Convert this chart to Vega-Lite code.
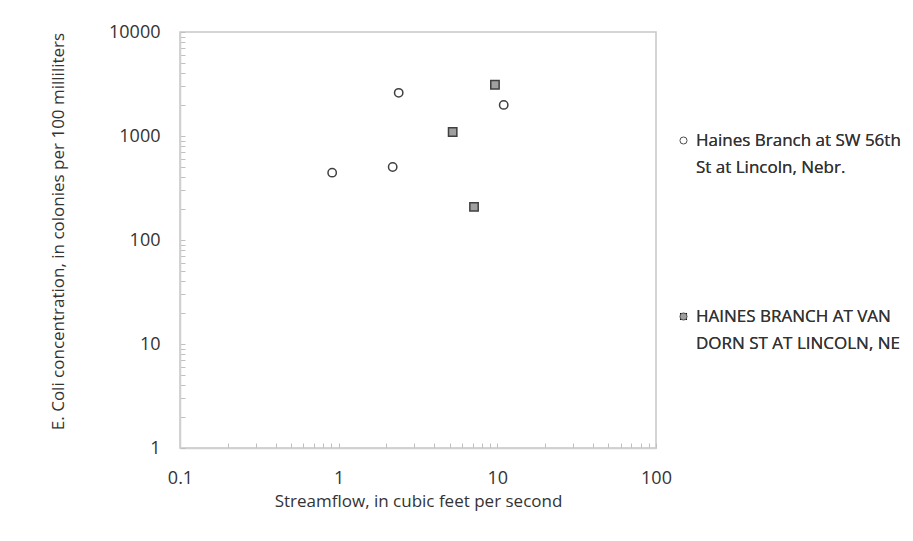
{
  "$schema": "https://vega.github.io/schema/vega-lite/v6.json",
  "autosize": "none",
  "width": 476,
  "height": 416,
  "padding": {"left": 180, "top": 32, "right": 257, "bottom": 93},
  "background": "white",
  "config": {
    "font": "Open Sans",
    "view": {"stroke": "#c8c8c8", "strokeWidth": 1.5},
    "style": {"guide-label": {"lineHeight": 27}},
    "axis": {
      "grid": false,
      "domainColor": "#d0d0d0",
      "domainWidth": 1.5,
      "tickColor": "#c0c0c0",
      "tickSize": -5,
      "labelFont": "Open Sans",
      "labelFontSize": 18,
      "labelColor": "#333333",
      "titleFont": "Open Sans",
      "titleFontSize": 17,
      "titleFontWeight": "normal",
      "titleColor": "#333333"
    },
    "legend": {
      "labelFont": "Open Sans",
      "labelFontSize": 17,
      "labelColor": "#333333"
    }
  },
  "data": {
    "values": [
      {"site": "Haines Branch at SW 56th St at Lincoln, Nebr.", "flow": 0.91, "ecoli": 444},
      {"site": "Haines Branch at SW 56th St at Lincoln, Nebr.", "flow": 2.19, "ecoli": 503},
      {"site": "Haines Branch at SW 56th St at Lincoln, Nebr.", "flow": 2.39, "ecoli": 2600},
      {"site": "Haines Branch at SW 56th St at Lincoln, Nebr.", "flow": 10.97, "ecoli": 1990},
      {"site": "HAINES BRANCH AT VAN DORN ST AT LINCOLN, NE", "flow": 5.23, "ecoli": 1093},
      {"site": "HAINES BRANCH AT VAN DORN ST AT LINCOLN, NE", "flow": 9.66, "ecoli": 3110},
      {"site": "HAINES BRANCH AT VAN DORN ST AT LINCOLN, NE", "flow": 7.13, "ecoli": 208}
    ]
  },
  "mark": {"type": "point", "filled": true, "stroke": "#404040", "strokeWidth": 1.5, "opacity": 1, "size": 70},
  "encoding": {
    "x": {
      "field": "flow",
      "type": "quantitative",
      "title": "Streamflow, in cubic feet per second",
      "scale": {"type": "log", "domain": [0.1, 100], "nice": false},
      "axis": {
        "values": [0.1,0.2,0.3,0.4,0.5,0.6,0.7,0.8,0.9,1,2,3,4,5,6,7,8,9,10,20,30,40,50,60,70,80,90,100],
        "format": "~g",
        "labelExpr": "abs(log(datum.value)/LN10 - round(log(datum.value)/LN10)) < 0.000001 ? datum.label : ''",
        "labelPadding": 26,
        "titlePadding": 6,
        "labelFlush": false,
        "labelOverlap": false
      }
    },
    "y": {
      "field": "ecoli",
      "type": "quantitative",
      "title": "E. Coli concentration, in colonies per 100 milliliters",
      "scale": {"type": "log", "domain": [1, 10000], "nice": false},
      "axis": {
        "values": [1,2,3,4,5,6,7,8,9,10,20,30,40,50,60,70,80,90,100,200,300,400,500,600,700,800,900,1000,2000,3000,4000,5000,6000,7000,8000,9000,10000],
        "format": "~g",
        "labelExpr": "abs(log(datum.value)/LN10 - round(log(datum.value)/LN10)) < 0.000001 ? datum.label : ''",
        "labelPadding": 25,
        "titlePadding": 41,
        "titleY": 199,
        "labelFlush": false,
        "labelOverlap": false
      }
    },
    "shape": {
      "field": "site",
      "type": "nominal",
      "sort": ["Haines Branch at SW 56th St at Lincoln, Nebr.", "HAINES BRANCH AT VAN DORN ST AT LINCOLN, NE"],
      "scale": {"range": ["circle", "square"]},
      "legend": {
        "title": null,
        "orient": "none",
        "legendX": 495,
        "legendY": 100,
        "padding": 0,
        "symbolSize": 50,
        "symbolStrokeWidth": 1,
        "symbolStrokeColor": "#555555",
        "labelLimit": 400,
        "labelBaseline": "middle",
        "rowPadding": 131,
        "labelExpr": "datum.label == 'Haines Branch at SW 56th St at Lincoln, Nebr.' ? ['Haines Branch at SW 56th', 'St at Lincoln, Nebr.'] : ['HAINES BRANCH AT VAN', 'DORN ST AT LINCOLN, NE']",
        "encode": {"labels": {"update": {"dy": {"value": 13.5}}}}
      }
    },
    "fill": {
      "field": "site",
      "type": "nominal",
      "sort": ["Haines Branch at SW 56th St at Lincoln, Nebr.", "HAINES BRANCH AT VAN DORN ST AT LINCOLN, NE"],
      "scale": {"range": ["#ffffff", "#a0a0a0"]},
      "legend": {
        "title": null,
        "orient": "none",
        "legendX": 495,
        "legendY": 100,
        "padding": 0,
        "symbolSize": 50,
        "symbolStrokeWidth": 1,
        "symbolStrokeColor": "#555555",
        "labelLimit": 400,
        "labelBaseline": "middle",
        "rowPadding": 131,
        "labelExpr": "datum.label == 'Haines Branch at SW 56th St at Lincoln, Nebr.' ? ['Haines Branch at SW 56th', 'St at Lincoln, Nebr.'] : ['HAINES BRANCH AT VAN', 'DORN ST AT LINCOLN, NE']",
        "encode": {"labels": {"update": {"dy": {"value": 13.5}}}}
      }
    }
  }
}
